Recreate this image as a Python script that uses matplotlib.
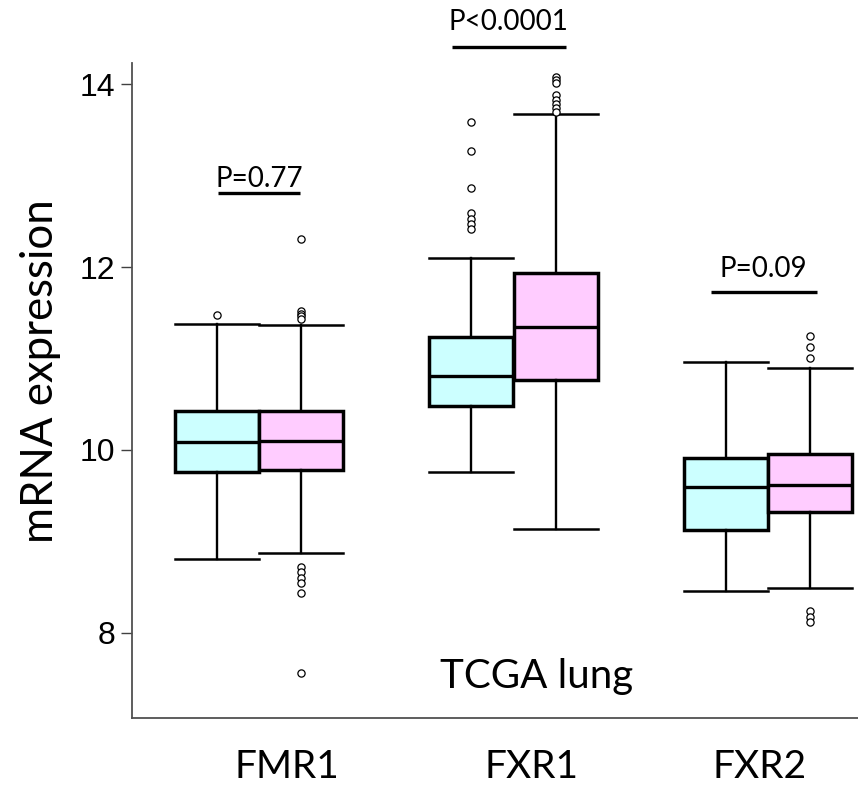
import matplotlib
matplotlib.use("Agg")
import matplotlib.pyplot as plt

# ---------------- data ----------------
genes = ["FMR1", "FXR1", "FXR2"]

normal_lo = [8.81, 9.76, 8.45]
normal_q1 = [9.76, 10.48, 9.12]
normal_med = [10.08, 10.81, 9.59]
normal_q3 = [10.42, 11.23, 9.91]
normal_hi = [11.38, 12.10, 10.96]
normal_fliers = [
    [11.48],
    [13.59, 13.27, 12.87, 12.59, 12.53, 12.47, 12.42],
    [],
]

tumor_lo = [8.87, 9.13, 8.49]
tumor_q1 = [9.78, 10.76, 9.32]
tumor_med = [10.10, 11.34, 9.61]
tumor_q3 = [10.42, 11.94, 9.95]
tumor_hi = [11.37, 13.68, 10.90]
tumor_fliers = [
    [12.31, 11.52, 11.49, 11.46, 11.43, 8.72, 8.66, 8.60, 8.54, 8.43, 7.56],
    [14.08, 14.05, 14.01, 13.88, 13.83, 13.78, 13.74, 13.70],
    [11.24, 11.12, 11.00, 8.24, 8.17, 8.11],
]

p_labels = ["P=0.77", "P<0.0001", "P=0.09"]

# annotation placement (data units)
bar_x0 = [-0.159, 0.758, 1.775]
bar_x1 = [0.162, 1.206, 2.192]
bar_y = [12.807, 14.412, 11.730]
text_y = [12.879, 14.594, 11.894]

# ---------------- figure ----------------
W, H = 858, 787
fig = plt.figure(figsize=(W / 100, H / 100), dpi=100)
ax = fig.add_axes([132 / W, (H - 717.7) / H, (W - 132) / W, (717.7 - 63) / H])

offset = 0.166
bw = 0.33


def stats(lo, q1, med, q3, hi, fl):
    return [dict(whislo=a, q1=b, med=c, q3=d, whishi=e, fliers=f)
            for a, b, c, d, e, f in zip(lo, q1, med, q3, hi, fl)]


common = dict(
    widths=bw,
    capwidths=bw,
    patch_artist=True,
    whiskerprops=dict(color="black", linewidth=1.7),
    capprops=dict(color="black", linewidth=1.8),
    medianprops=dict(color="black", linewidth=2.4),
    flierprops=dict(marker="o", markerfacecolor="white", markeredgecolor="black",
                    markersize=5.2, markeredgewidth=0.9, linestyle="none"),
)

xs = list(range(len(genes)))
ax.bxp(stats(normal_lo, normal_q1, normal_med, normal_q3, normal_hi, normal_fliers),
       positions=[x - offset for x in xs],
       boxprops=dict(facecolor="#CCFFFF", edgecolor="black", linewidth=2.5),
       **common)
ax.bxp(stats(tumor_lo, tumor_q1, tumor_med, tumor_q3, tumor_hi, tumor_fliers),
       positions=[x + offset for x in xs],
       boxprops=dict(facecolor="#FFCCFF", edgecolor="black", linewidth=2.5),
       **common)

for i, lab in enumerate(p_labels):
    ax.plot([bar_x0[i], bar_x1[i]], [bar_y[i], bar_y[i]], color="black",
            linewidth=2.4, solid_capstyle="butt", clip_on=False)
    ax.text((bar_x0[i] + bar_x1[i]) / 2, text_y[i], lab, ha="center", va="baseline",
            fontsize=20, family="Lato", clip_on=False)

ax.set_xlim(-0.4986, 2.354)
ax.set_ylim(7.068, 14.233)
ax.set_yticks([8, 10, 12, 14])
ax.set_xticks([])
ax.tick_params(axis="y", direction="out", length=8, width=1.0, pad=4,
               labelsize=23, color="#404040")
for t in ax.get_yticklabels():
    t.set_family("Liberation Sans")
for s in ["top", "right"]:
    ax.spines[s].set_visible(False)
for s in ["left", "bottom"]:
    ax.spines[s].set_color("#505050")
    ax.spines[s].set_linewidth(1.3)

# y-axis title (sized to match the reference's extent)
ylab = fig.text(41 / W, (H - 371) / H, "mRNA expression", rotation=90,
                ha="center", va="center", fontsize=31, family="Lato")
fig.canvas.draw()
bb = ylab.get_window_extent()
ylab.set_fontsize(31 * 342 / bb.height)

fig.text(537 / W, (H - 688) / H, "TCGA lung", ha="center", va="baseline",
         fontsize=29, family="Lato")
label_x = [287, 531, 760]
for gx, g in zip(label_x, genes):
    fig.text(gx / W, (H - 778) / H, g, ha="center", va="baseline",
             fontsize=28, family="Lato")

fig.savefig("out.png", dpi=100)
